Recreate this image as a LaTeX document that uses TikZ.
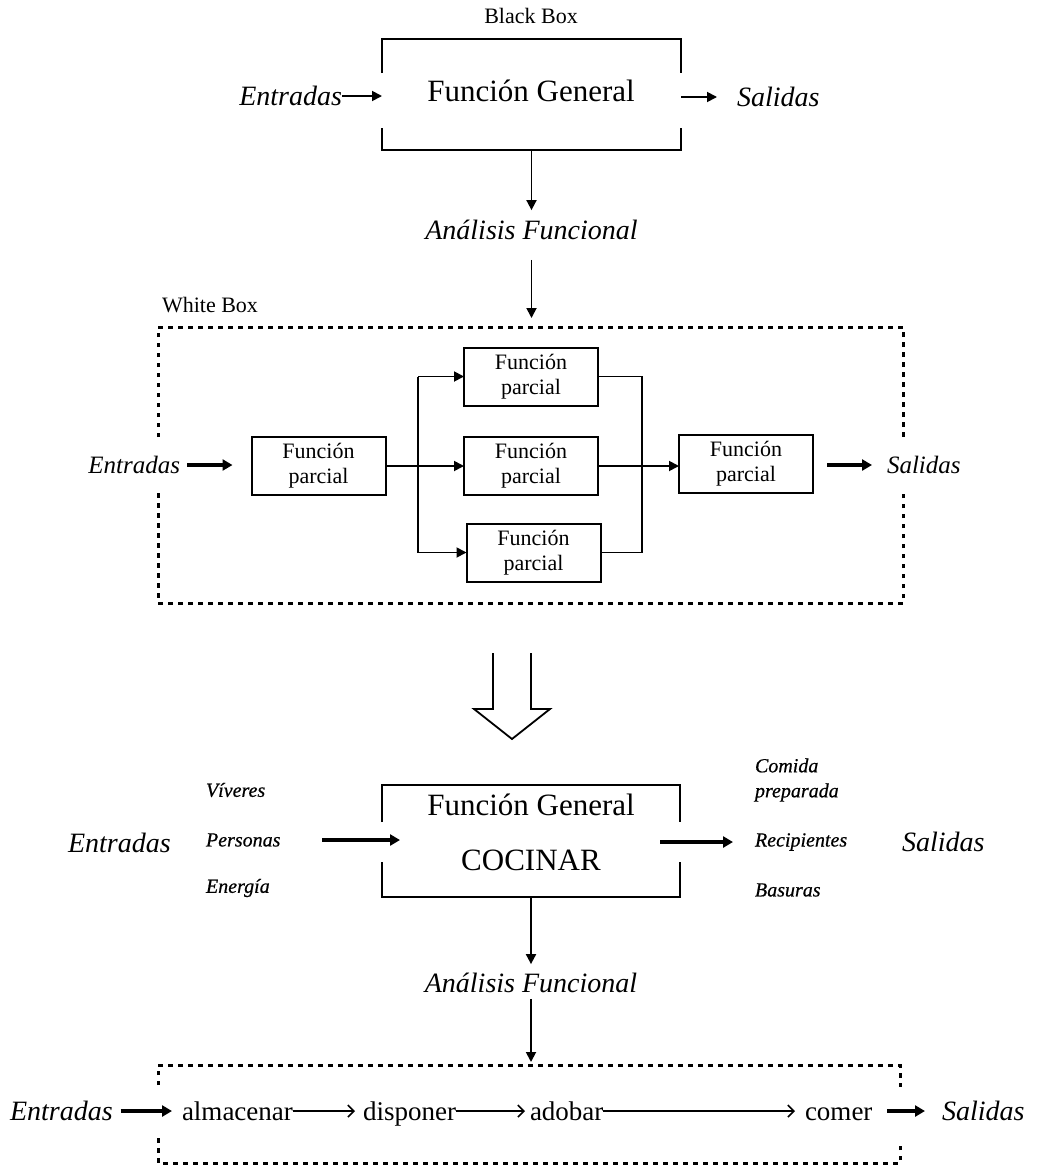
\documentclass[tikz,border=0pt]{standalone}
\usepackage{fontspec}
\setmainfont{Liberation Serif}
\newfontfamily\semiserif[FakeBold=0.6]{Liberation Serif}
\usetikzlibrary{arrows.meta,calc}
\begin{document}
\begin{tikzpicture}[x=1pt,y=-1pt,
  every node/.style={inner sep=0pt,outer sep=0pt},
  frame/.style={line width=1.8pt,line join=miter},
  arrA/.style={line width=1.8pt,-{Triangle[length=10pt,width=10pt]}},
  arrB/.style={line width=3.2pt,-{Triangle[length=10pt,width=11pt]}},
  arrC/.style={line width=1.6pt,-{Straight Barb[length=6pt,width=12pt,line width=1.6pt]}},
  pbox/.style={draw,line width=2pt,minimum width=134pt,minimum height=58pt,align=center,font=\fontsize{22}{25}\selectfont},
  dotline/.style={line width=3pt,dash pattern=on 4.5pt off 5.5pt},
  small/.style={font=\fontsize{22}{22}\selectfont},
  big/.style={font=\fontsize{31}{31}\selectfont},
  itbig/.style={font=\fontsize{28}{28}\selectfont\itshape},
  itmid/.style={font=\fontsize{25}{25}\selectfont\itshape},
  itsmall/.style={font=\fontsize{20}{25}\selectfont\semiserif\itshape},
  rowtxt/.style={font=\fontsize{27}{27}\selectfont},
]
\useasboundingbox (0,0) rectangle (1048,1167);

% ---------------- Black box ----------------
\node[small] (bbl) at (531,16) {Black Box};
\node[minimum width=299pt,minimum height=111pt] (bb) at (531.5,94.5) {};
\draw[frame] ($(bb.north west)+(0,34)$) -- (bb.north west) -- (bb.north east) -- ($(bb.north east)+(0,34)$);
\draw[frame] ($(bb.south west)+(0,-22)$) -- (bb.south west) -- (bb.south east) -- ($(bb.south east)+(0,-22)$);
\node[big] (fg1) at (531,91) {Función General};
\node[itbig,anchor=east] (ent1) at (342,96) {Entradas};
\node[itbig,anchor=west] (sal1) at (737,97) {Salidas};
\draw[arrA] (ent1.east) -- (ent1.east -| bb.west);
\draw[arrA,shorten >=20pt] (sal1.west -| bb.east) -- (sal1.west);
\node[itbig] (af1) at (531.5,230) {Análisis Funcional};
\draw[arrA,shorten >=10pt] (bb.south) -- (bb.south |- af1.north);

% ---------------- White box ----------------
\node[small,anchor=west] (wbl) at (162,305) {White Box};
\node[minimum width=745pt,minimum height=276pt] (wb) at (530.5,465) {};
\draw[arrA,shorten <=20pt,shorten >=9pt] (af1.south) -- (af1.south |- wb.north);
\draw[dotline] ($(wb.north west)+(0,110)$) -- (wb.north west) -- (wb.north east) -- ($(wb.north east)+(0,113)$);
\draw[dotline] ($(wb.south west)+(0,-110)$) -- (wb.south west) -- (wb.south east) -- ($(wb.south east)+(0,-110)$);

\node[pbox] (p1) at (318.5,466) {Función\\parcial};
\node[pbox] (p2) at (531,376.5) {Función\\parcial};
\node[pbox] (p3) at (531,466) {Función\\parcial};
\node[pbox] (p4) at (533.5,552.5) {Función\\parcial};
\node[pbox] (p5) at (746,464) {Función\\parcial};
\coordinate (split) at (418,466);
\coordinate (merge) at (642,466);
\draw[frame] (p1.east) -- (split);
\draw[frame] (split |- p2.west) -- (split |- p4.west);
\draw[arrA] (split) -- (p3.west);
\draw[arrA] (split |- p2.west) -- (p2.west);
\draw[arrA] (split |- p4.west) -- (p4.west);
\draw[frame] (p2.east) -- (p2.east -| merge) -- (p4.east -| merge) -- (p4.east);
\draw[arrA] (p3.east) -- (p3.east -| p5.west);
\node[itmid,anchor=east] (ent2) at (180,465) {Entradas};
\node[itmid,anchor=west] (sal2) at (887,465) {Salidas};
\draw[arrB,shorten <=7pt,shorten >=19pt] (ent2.east) -- (ent2.east -| p1.west);
\draw[arrB,shorten <=14pt,shorten >=15pt] (sal2.west -| p5.east) -- (sal2.west);

% ---------------- hollow arrow ----------------
\draw[frame] (493,653) -- (493,709) -- (474,709) -- (512,739) -- (550,709) -- (531,709) -- (531,653);

% ---------------- COCINAR ----------------
\node[minimum width=298pt,minimum height=112pt] (cb) at (531,841) {};
\draw[frame] ($(cb.north west)+(0,37)$) -- (cb.north west) -- (cb.north east) -- ($(cb.north east)+(0,37)$);
\draw[frame] ($(cb.south west)+(0,-35)$) -- (cb.south west) -- (cb.south east) -- ($(cb.south east)+(0,-35)$);
\node[big] (fg2) at (531,805) {Función General};
\node[big] (coc) at (531,860) {COCINAR};
\node[itbig,anchor=west] (ent3) at (68,843) {Entradas};
\node[itsmall,anchor=west] (viv) at (206,790) {Víveres};
\node[itsmall,anchor=west] (per) at (206,840) {Personas};
\node[itsmall,anchor=west] (ene) at (206,888) {Energía};
\node[itsmall,anchor=west,align=left] (com) at (755,780) {Comida\\preparada};
\node[itsmall,anchor=west] (rec) at (755,842) {Recipientes};
\node[itsmall,anchor=west] (bas) at (755,890) {Basuras};
\node[itbig,anchor=west] (sal3) at (902,842) {Salidas};
\draw[arrB,shorten <=42pt,shorten >=-18pt] (per.east) -- (per.east -| cb.west);
\draw[arrB,shorten <=-20pt,shorten >=22pt] (rec.west -| cb.east) -- (rec.west);
\node[itbig] (af2) at (531,983) {Análisis Funcional};
\draw[arrA,shorten >=9pt] (cb.south) -- (cb.south |- af2.north);

% ---------------- bottom row ----------------
\node[minimum width=742pt,minimum height=98pt] (lb) at (529,1114) {};
\draw[arrA,shorten <=6pt,shorten >=3pt] (af2.south) -- (af2.south |- lb.north);
\draw[dotline] ($(lb.north west)+(0,20)$) -- (lb.north west) -- (lb.north east) -- ($(lb.north east)+(0,22)$);
\draw[dotline] ($(lb.south west)+(0,-25)$) -- (lb.south west) -- (lb.south east) -- ($(lb.south east)+(0,-18)$);
\node[itbig,anchor=base west] (ent4) at (10,1120) {Entradas};
\node[rowtxt,anchor=base west] (alm) at (182,1120) {almacenar};
\node[rowtxt,anchor=base west] (dis) at (363,1120) {disponer};
\node[rowtxt,anchor=base west] (ado) at (530,1120) {adobar};
\node[rowtxt,anchor=base west] (come) at (805,1120) {comer};
\node[itbig,anchor=base west] (sal4) at (942,1120) {Salidas};
\coordinate (rowy) at (0,1111);
\draw[arrB,shorten <=8pt,shorten >=10pt] (ent4.east |- rowy) -- (alm.west |- rowy);
\draw[arrC,shorten >=8pt] (alm.east |- rowy) -- (dis.west |- rowy);
\draw[arrC,shorten >=5pt] (dis.east |- rowy) -- (ado.west |- rowy);
\draw[arrC,shorten >=10pt] (ado.east |- rowy) -- (come.west |- rowy);
\draw[arrB,shorten <=15pt,shorten >=17pt] (come.east |- rowy) -- (sal4.west |- rowy);
\end{tikzpicture}
\end{document}
